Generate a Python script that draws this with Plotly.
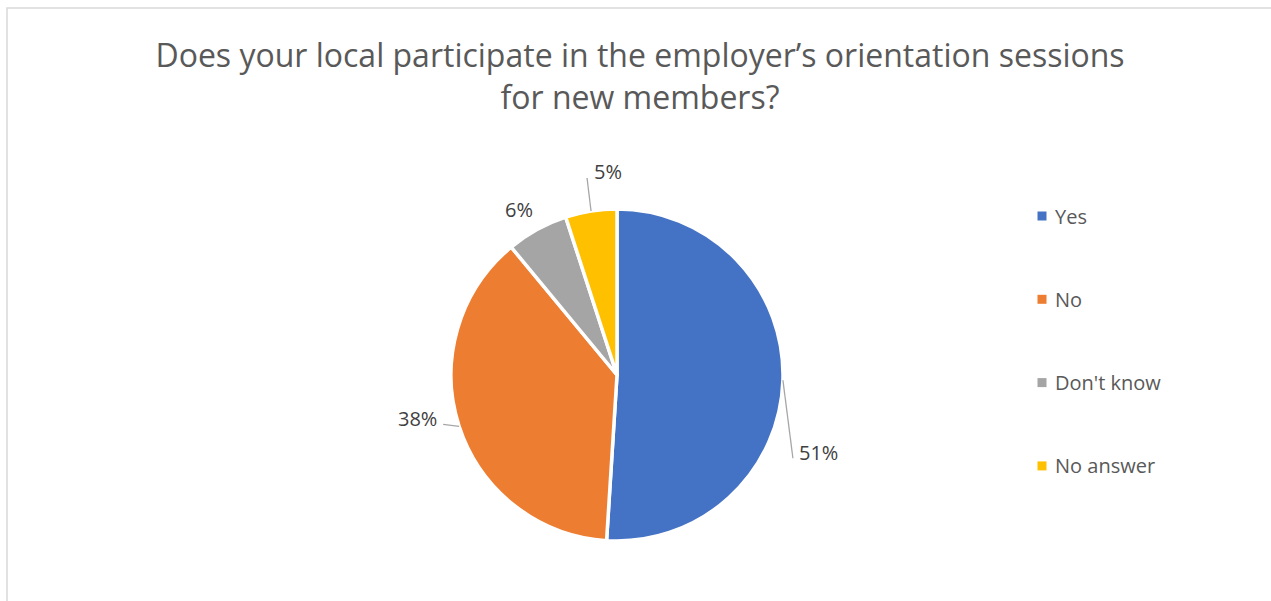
import math
import plotly.graph_objects as go

# Survey responses
categories = ["Yes", "No", "Don't know", "No answer"]
shares = [51, 38, 6, 5]
colors = ["#4472C4", "#ED7D31", "#A5A5A5", "#FFC000"]
title_text = "Does your local participate in the employer\u2019s orientation sessions<br>for new members?"

W, H = 1271, 601
CX, CY, R = 617, 375, 166  # pie centre and radius in pixels

# Label placement relative to slice edge (style only): (dx, dy, anchor, leader end offset)
label_style = [
    (14, 72, "left", (-4, 6)),
    (-20, -8, "right", (4, 6)),
    (-18, -20, "center", None),
    (1, -40, "left", (-5, 7)),
]


def px(x):
    return x / W


def py(y):
    return 1 - y / H


fig = go.Figure(
    go.Pie(
        labels=categories,
        values=shares,
        sort=False,
        direction="clockwise",
        rotation=0,
        marker=dict(colors=colors, line=dict(color="white", width=3.5)),
        textinfo="none",
        hoverinfo="label+percent",
        showlegend=False,
        domain=dict(x=[px(CX - R), px(CX + R)], y=[py(CY + R), py(CY - R)]),
    )
)

annotations = []
shapes = []
total = sum(shares)
start = 0.0
for val, (dx, dy, anchor, leader) in zip(shares, label_style):
    mid = (start + val / 2) / total * 2 * math.pi
    start += val
    ex = CX + R * math.sin(mid)
    ey = CY - R * math.cos(mid)
    lx, ly = ex + dx, ey + dy
    annotations.append(dict(
        x=px(lx), y=py(ly), xref="paper", yref="paper",
        text=f"{val}%", showarrow=False, xanchor=anchor, yanchor="middle",
        font=dict(family="Open Sans", size=20, color="#404040"),
    ))
    if leader:
        tx, ty = lx + leader[0], ly + leader[1]
        shapes.append(dict(
            type="line", xref="paper", yref="paper",
            x0=px(ex), y0=py(ey), x1=px(tx), y1=py(ty),
            line=dict(color="#A6A6A6", width=1.3),
        ))

# Legend
LEG_X, LEG_Y0, LEG_STEP = 1042, 216, 83.3
for i, (name, col) in enumerate(zip(categories, colors)):
    y = LEG_Y0 + i * LEG_STEP
    shapes.append(dict(
        type="rect", xref="paper", yref="paper",
        x0=px(LEG_X - 4.5), x1=px(LEG_X + 4.5), y0=py(y + 4.5), y1=py(y - 4.5),
        fillcolor=col, line=dict(width=0),
    ))
    annotations.append(dict(
        x=px(LEG_X + 11), y=py(y), xref="paper", yref="paper",
        text=name, showarrow=False, xanchor="left", yanchor="middle",
        font=dict(family="Open Sans", size=20, color="#595959"),
    ))

# Chart area border
shapes.append(dict(
    type="rect", xref="paper", yref="paper",
    x0=px(7), x1=px(W + 10), y0=py(H + 10), y1=py(8),
    line=dict(color="#D9D9D9", width=1.5), fillcolor="rgba(0,0,0,0)",
))

fig.update_layout(
    width=W, height=H,
    margin=dict(l=0, r=0, t=0, b=0),
    paper_bgcolor="white",
    plot_bgcolor="white",
    title=dict(
        text=title_text, x=px(640), xanchor="center",
        y=py(67), yanchor="middle",
        font=dict(family="Open Sans", size=32, color="#595959"),
    ),
    annotations=annotations,
    shapes=shapes,
)

fig.write_html("out.html")
